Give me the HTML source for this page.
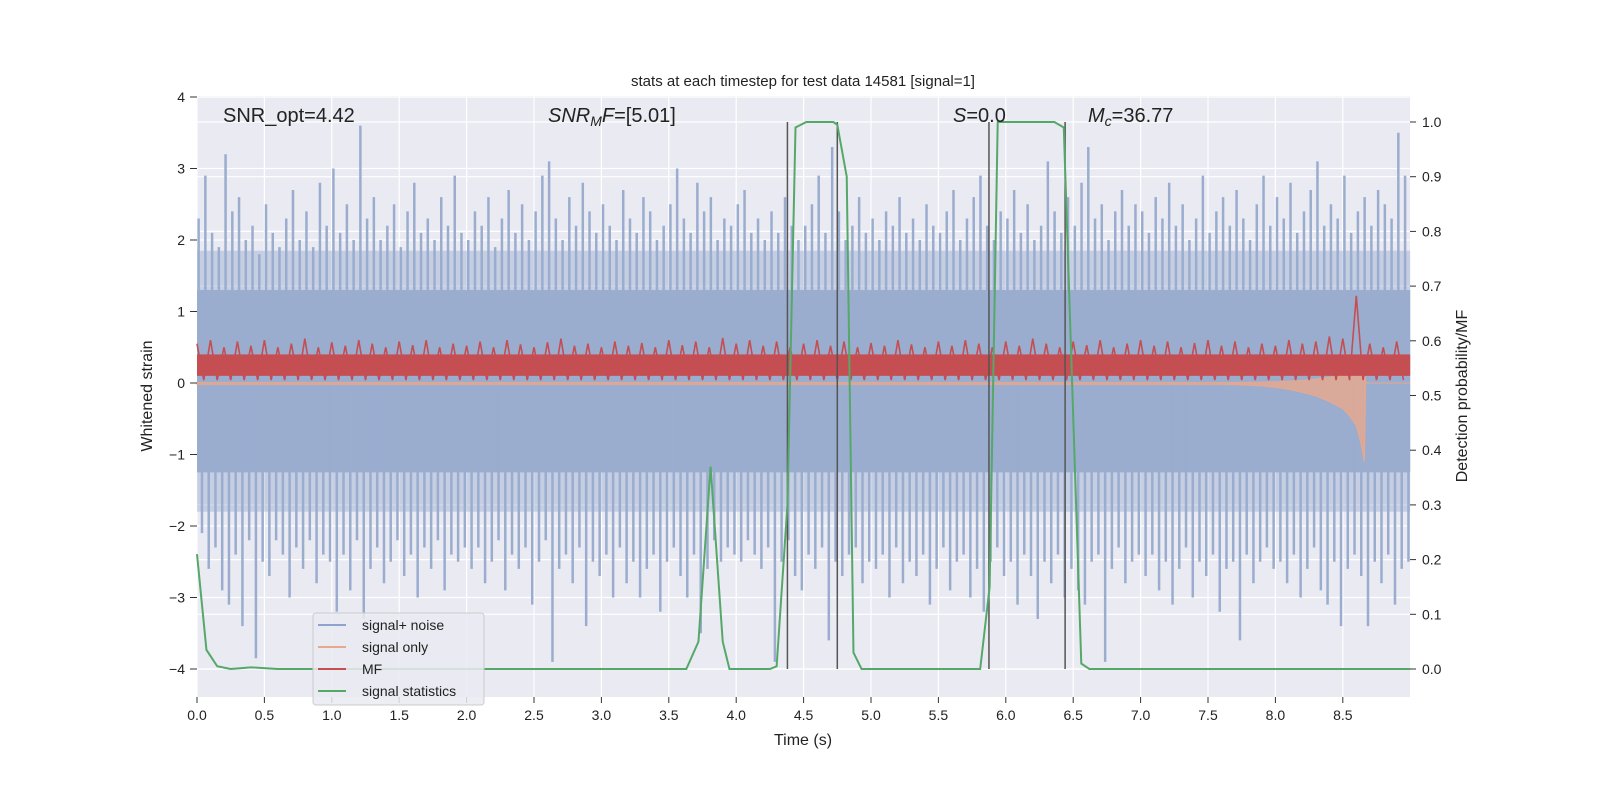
<!DOCTYPE html>
<html><head><meta charset="utf-8"><style>
body{margin:0;background:#fff;}
svg{display:block;font-family:"Liberation Sans","DejaVu Sans",sans-serif;}
</style></head><body>
<svg id="chart" width="1600" height="800" viewBox="0 0 1600 800" xmlns="http://www.w3.org/2000/svg">
<rect width="1600" height="800" fill="#fff"/>
<rect x="197" y="96" width="1213" height="601" fill="#eaeaf2"/>
<g id="grid"></g><g id="marks"></g><g id="axes"></g>
<text x="803" y="86" font-size="15" text-anchor="middle" fill="#222">stats at each timestep for test data 14581 [signal=1]</text>
<text x="223" y="122" font-size="20" fill="#222">SNR_opt=4.42</text>
<text x="548" y="122" font-size="20" fill="#222"><tspan font-style="italic">SNR</tspan><tspan font-style="italic" font-size="14" dy="4">M</tspan><tspan font-style="italic" dy="-4">F</tspan>=[5.01]</text>
<text x="953" y="122" font-size="20" fill="#222"><tspan font-style="italic">S</tspan>=0.0</text>
<text x="1088" y="122" font-size="20" fill="#222"><tspan font-style="italic">M</tspan><tspan font-style="italic" font-size="14" dy="4">c</tspan><tspan dy="-4">=36.77</tspan></text>
<text x="803" y="745" font-size="16" text-anchor="middle" fill="#222">Time (s)</text>
<text transform="translate(152,396) rotate(-90)" font-size="16" text-anchor="middle" fill="#222">Whitened strain</text>
<text transform="translate(1467,396) rotate(-90)" font-size="16" text-anchor="middle" fill="#222">Detection probability/MF</text>
<g>
<rect x="313" y="613" width="171" height="92" rx="3" fill="#eaeaf2" fill-opacity="0.85" stroke="#ccc"/>
<line x1="318" y1="625" x2="346" y2="625" stroke="#8ea3cd" stroke-width="2"/><text x="362" y="630" font-size="14" fill="#222">signal+ noise</text>
<line x1="318" y1="647" x2="346" y2="647" stroke="#e8a88c" stroke-width="2"/><text x="362" y="652" font-size="14" fill="#222">signal only</text>
<line x1="318" y1="669" x2="346" y2="669" stroke="#c44e52" stroke-width="2"/><text x="362" y="674" font-size="14" fill="#222">MF</text>
<line x1="318" y1="691" x2="346" y2="691" stroke="#55a868" stroke-width="2"/><text x="362" y="696" font-size="14" fill="#222">signal statistics</text>
</g>
</svg>
<script>
const noiseStep = 0.05;
const noiseHi = [2.3,2.9,2.1,1.9,3.2,2.4,2.6,2.0,2.2,1.8,2.5,2.1,1.9,2.3,2.7,2.0,2.4,1.9,2.8,2.2,
3.0,2.1,2.5,2.0,3.6,2.3,2.6,2.0,2.2,2.5,1.9,2.4,2.8,2.1,2.3,2.0,2.6,2.2,2.9,2.1,
2.0,2.4,2.2,2.6,1.9,2.3,2.7,2.1,2.5,2.0,2.4,2.9,3.1,2.3,2.0,2.6,2.2,2.8,2.4,2.1,
2.5,2.2,2.0,2.7,2.3,2.1,2.6,2.4,2.0,2.2,2.5,3.0,2.3,2.1,2.8,2.4,2.6,2.0,2.3,2.2,
2.5,2.7,2.1,2.3,2.0,2.4,2.1,2.6,2.2,2.0,2.2,2.5,2.9,2.1,3.3,2.4,2.0,2.2,2.6,2.1,
2.3,2.0,2.4,2.2,2.6,2.1,2.3,2.0,2.5,2.2,2.1,2.4,2.7,2.0,2.3,2.6,2.9,2.2,2.0,2.4,
2.3,2.7,2.1,2.5,2.0,2.2,3.1,2.4,2.1,2.6,2.2,2.8,3.3,2.3,2.5,2.0,2.4,2.7,2.2,2.5,
2.4,2.1,2.6,2.3,2.8,2.2,2.5,2.0,2.3,2.9,2.1,2.4,2.6,2.2,2.7,2.3,2.0,2.5,2.9,2.2,
2.6,2.3,2.8,2.1,2.4,2.7,3.1,2.2,2.5,2.3,2.9,2.1,2.4,2.6,2.2,2.7,2.5,2.3,3.5,2.9];
const noiseLo = [-2.1,-2.6,-2.3,-2.9,-3.1,-2.4,-3.4,-2.2,-3.85,-2.5,-2.7,-2.2,-2.4,-3.0,-2.3,-2.6,-2.2,-2.8,-2.4,-2.5,
-3.2,-2.4,-2.9,-2.2,-3.3,-2.6,-2.3,-2.8,-2.5,-2.2,-2.7,-2.4,-3.0,-2.3,-2.6,-2.2,-2.9,-2.4,-2.5,-2.3,
-2.6,-2.3,-2.8,-2.5,-2.2,-2.9,-2.4,-2.6,-2.3,-3.1,-2.5,-2.2,-3.9,-2.6,-2.4,-2.8,-2.3,-3.4,-2.5,-2.7,
-2.4,-3.0,-2.3,-2.8,-2.5,-3.0,-2.6,-2.4,-3.2,-2.5,-2.3,-2.7,-3.0,-2.4,-3.5,-2.6,-2.2,-2.5,-2.3,-2.4,
-2.5,-2.2,-2.4,-2.6,-2.3,-3.9,-2.5,-2.2,-2.7,-2.9,-2.4,-2.6,-2.3,-3.6,-2.5,-2.7,-2.4,-2.3,-2.8,-2.5,
-2.6,-2.4,-3.0,-2.3,-2.8,-2.5,-2.7,-2.4,-3.1,-2.6,-2.3,-2.9,-2.5,-2.4,-3.0,-2.6,-3.2,-2.5,-2.3,-2.7,
-2.5,-3.1,-2.4,-2.7,-3.3,-2.5,-2.8,-2.4,-3.0,-2.6,-2.9,-3.1,-2.5,-2.4,-3.9,-2.6,-2.3,-2.8,-2.5,-2.4,
-2.7,-2.4,-2.9,-2.5,-3.1,-2.6,-2.3,-3.0,-2.5,-2.7,-2.4,-3.2,-2.6,-2.5,-3.6,-2.4,-2.8,-2.5,-2.3,-2.6,
-2.5,-2.8,-2.4,-3.0,-2.6,-2.3,-2.9,-3.1,-2.5,-3.4,-2.6,-2.4,-2.7,-3.4,-2.5,-2.8,-2.4,-3.1,-2.6,-2.5];
const noiseCore = [-1.25, 1.3];
const noiseDense = [-1.8, 1.85];
const mfStep = 0.1;
const mfHi = [0.55,0.6,0.5,0.58,0.52,0.6,0.5,0.55,0.62,0.5,0.57,0.52,0.6,0.55,0.5,0.58,0.53,0.6,0.5,0.55,
0.52,0.58,0.5,0.6,0.54,0.5,0.57,0.62,0.52,0.55,0.5,0.58,0.52,0.56,0.5,0.6,0.53,0.58,0.5,0.63,
0.55,0.6,0.52,0.58,0.5,0.55,0.6,0.52,0.58,0.5,0.56,0.52,0.6,0.54,0.5,0.58,0.52,0.6,0.55,0.5,
0.58,0.52,0.62,0.55,0.5,0.58,0.53,0.6,0.5,0.55,0.6,0.52,0.58,0.5,0.56,0.6,0.52,0.58,0.5,0.55,
0.52,0.6,0.55,0.58,0.65,0.62,1.22,0.55,0.5,0.58];
const mfLo = 0.04;
const mfMid = [0.1, 0.4];
const sigT = [0,7.6,7.8,7.9,8.0,8.1,8.2,8.3,8.4,8.5,8.55,8.6,8.63,8.66,8.67,9.0];
const sigAmp = [0.02,0.02,0.03,0.04,0.06,0.09,0.13,0.18,0.26,0.36,0.46,0.6,0.8,1.1,0,0];
const statT = [0,0.07,0.15,0.25,0.4,0.6,3.63,3.72,3.81,3.9,3.95,4.25,4.3,4.38,4.44,4.52,4.72,4.75,4.82,4.87,4.93,5.81,5.88,5.94,6.36,6.43,6.56,6.62,9.0];
const statP = [0.21,0.035,0.005,0.0,0.003,0.0,0.0,0.05,0.37,0.05,0.0,0.0,0.005,0.3,0.99,1.0,1.0,0.995,0.9,0.03,0.0,0.0,0.15,1.0,1.0,0.99,0.01,0.0,0.0];
const vlineT = [4.38,4.75,5.875,6.44];
const xTicks = [0,0.5,1,1.5,2,2.5,3,3.5,4,4.5,5,5.5,6,6.5,7,7.5,8,8.5];
const yTicks = [-4,-3,-2,-1,0,1,2,3,4];
const y2Ticks = [0,0.1,0.2,0.3,0.4,0.5,0.6,0.7,0.8,0.9,1.0];

const NS='http://www.w3.org/2000/svg';
const X=t=>197+t*134.8;
const Y=v=>383-v*71.5;
const Y2=p=>669-p*547;
function mk(tag,attrs,parent){const e=document.createElementNS(NS,tag);for(const k in attrs)e.setAttribute(k,attrs[k]);parent.appendChild(e);return e;}
const grid=document.getElementById('grid'),marks=document.getElementById('marks'),axes=document.getElementById('axes');
xTicks.forEach(t=>{const l=mk('line',{x1:X(t),x2:X(t),y1:96,y2:697,stroke:'#fff','stroke-width':1.2},grid);


mk('line',{x1:X(t),x2:X(t),y1:697,y2:703,stroke:'#333'},axes);
const tx=mk('text',{x:X(t),y:720,'font-size':14,'text-anchor':'middle',fill:'#222'},axes);tx.textContent=t.toFixed(1);

});
yTicks.forEach(v=>{const l=mk('line',{x1:197,x2:1410,y1:Y(v),y2:Y(v),stroke:'#fff','stroke-width':1.2},grid);


mk('line',{x1:190,x2:197,y1:Y(v),y2:Y(v),stroke:'#333'},axes);
const tx=mk('text',{x:185,y:Y(v)+5,'font-size':14,'text-anchor':'end',fill:'#222'},axes);tx.textContent=(v<0?'\u2212'+(-v):v);

});
y2Ticks.forEach(p=>{const l=mk('line',{x1:197,x2:1410,y1:Y2(p),y2:Y2(p),stroke:'#fff','stroke-width':1.2},grid);


mk('line',{x1:1410,x2:1416,y1:Y2(p),y2:Y2(p),stroke:'#333'},axes);
const tx=mk('text',{x:1422,y:Y2(p)+5,'font-size':14,fill:'#222'},axes);tx.textContent=p.toFixed(1);

});
// noise
const dense=mk('rect',{x:X(0),y:Y(noiseDense[1]),width:X(9)-X(0),height:Y(noiseDense[0])-Y(noiseDense[1]),fill:'#9aadcf','fill-opacity':0.45},marks);


const core=mk('rect',{x:X(0),y:Y(noiseCore[1]),width:X(9)-X(0),height:Y(noiseCore[0])-Y(noiseCore[1]),fill:'#9aadcf'},marks);


noiseHi.forEach((v,i)=>{const t=i*noiseStep;
const a=mk('line',{x1:X(t+0.012),x2:X(t+0.012),y1:Y(0),y2:Y(v),stroke:'#9aadcf','stroke-width':2.5},marks);


const b=mk('line',{x1:X(t+0.037),x2:X(t+0.037),y1:Y(0),y2:Y(noiseLo[i]),stroke:'#9aadcf','stroke-width':2.5},marks);

});
// signal only
let sp='';sigT.forEach((t,i)=>{sp+=(i?'L':'M')+X(t)+','+Y(sigAmp[i]*0.3);});
for(let i=sigT.length-1;i>=0;i--)sp+='L'+X(sigT[i])+','+Y(-sigAmp[i]);
const sig=mk('path',{d:sp+'Z',fill:'#e8a88c','fill-opacity':0.8,stroke:'#e8a88c','stroke-width':1},marks);


// MF
const mfb=mk('rect',{x:X(0),y:Y(mfMid[1]),width:X(9)-X(0),height:Y(mfMid[0])-Y(mfMid[1]),fill:'#c44e52'},marks);


let mp='';mfHi.forEach((v,i)=>{const t=i*mfStep;mp+=(i?'L':'M')+X(t)+','+Y(v)+'L'+X(t+mfStep/2)+','+Y(mfLo);});
const mf=mk('path',{d:mp,fill:'none',stroke:'#c44e52','stroke-width':1.6},marks);


// vertical lines
vlineT.forEach(t=>{const l=mk('line',{x1:X(t),x2:X(t),y1:Y2(1),y2:Y2(0),stroke:'#555','stroke-width':1.5},marks);

});
// statistics
const st=mk('polyline',{points:statT.map((t,i)=>X(t)+','+Y2(statP[i])).join(' '),fill:'none',stroke:'#55a868','stroke-width':2},marks);


</script>
</body></html>
